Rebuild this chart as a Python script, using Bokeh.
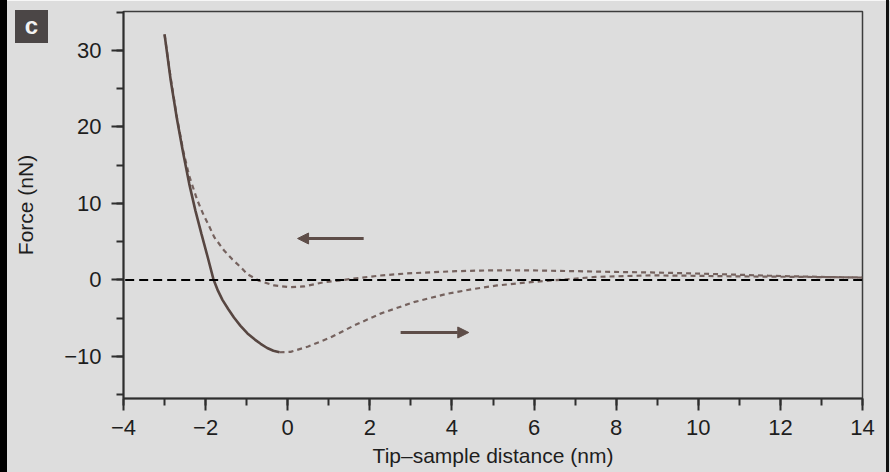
from bokeh.plotting import figure
from bokeh.models import (Arrow, NormalHead, Range1d, SingleIntervalTicker, Div, GridBox)
from bokeh.embed import file_html
from bokeh.resources import INLINE

# ---- data ----
approach_x = [-3.0, -2.85, -2.7, -2.55, -2.4, -2.25, -2.1, -1.95, -1.81, -1.7, -1.59,
              -1.45, -1.31, -1.15, -0.98, -0.8, -0.66, -0.5, -0.35, -0.2]
approach_y = [32.1, 26.1, 21.1, 16.7, 12.6, 9.1, 6.0, 3.0, 0.1, -1.4, -2.6,
              -3.8, -4.9, -6.0, -7.0, -7.8, -8.35, -8.9, -9.25, -9.45]

lower_x = [-0.2, 0.07, 0.5, 1.05, 1.6, 2.26, 3.07, 3.89, 4.5, 5.1, 5.92, 6.73,
           7.5, 8.84, 9.8, 10.86, 12.5, 14.0]
lower_y = [-9.45, -9.4, -8.7, -7.5, -6.0, -4.4, -2.9, -1.8, -1.2, -0.72, -0.28, 0.05,
           0.4, 0.6, 0.55, 0.47, 0.4, 0.33]

upper_x = [-3.0, -2.85, -2.7, -2.55, -2.4, -2.2, -2.05, -1.92, -1.79, -1.55, -1.35,
           -1.15, -0.98, -0.7, -0.33, 0.07, 0.4, 0.88, 1.29, 1.8, 2.26, 2.9, 3.48,
           4.1, 4.7, 5.3, 5.92, 7.0, 7.94, 8.84, 9.9, 10.86, 11.7, 12.5, 13.3, 14.0]
upper_y = [32.1, 26.4, 21.3, 17.0, 13.6, 10.4, 8.5, 7.1, 5.6, 3.85, 2.7,
           1.7, 0.75, -0.1, -0.72, -0.95, -0.85, -0.3, -0.05, 0.3, 0.58, 0.85, 1.0,
           1.15, 1.23, 1.27, 1.25, 1.15, 1.05, 0.98, 0.85, 0.7, 0.56, 0.45, 0.37, 0.31]

x_ticks = [-4, -2, 0, 2, 4, 6, 8, 10, 12, 14]
y_ticks = [-10, 0, 10, 20, 30]
x_title = "Tip\u2013sample distance (nm)"
y_title = "Force (nN)"
panel_letter = "c"

FONT = "Liberation Sans"
TXT = "#1e1e1e"
BG = "#dddddd"

p = figure(width=890, height=472, x_range=Range1d(-4, 14), y_range=Range1d(-15.5, 35.1),
           output_backend="svg", toolbar_location=None,
           min_border_left=123, min_border_right=28, min_border_top=11, min_border_bottom=74,
           background_fill_color=BG, border_fill_color=BG)
p.grid.visible = False
p.outline_line_color = "#3c3c3c"
p.outline_line_width = 1.5

p.xaxis.ticker = SingleIntervalTicker(interval=2, num_minor_ticks=2)
p.yaxis.ticker = SingleIntervalTicker(interval=10, num_minor_ticks=2)
p.xaxis.major_label_overrides = {t: (str(t).replace("-", "\u2212")) for t in x_ticks}
p.yaxis.major_label_overrides = {t: (str(t).replace("-", "\u2212")) for t in y_ticks}
for ax in (p.xaxis[0], p.yaxis[0]):
    ax.axis_line_color = "#2e2e2e"
    ax.axis_line_width = 2
    ax.major_tick_line_color = "#2e2e2e"
    ax.minor_tick_line_color = "#2e2e2e"
    ax.major_tick_line_width = 2
    ax.minor_tick_line_width = 2
    ax.major_tick_in = 0
    ax.minor_tick_in = 0
    ax.major_tick_out = 12
    ax.minor_tick_out = 7
    ax.major_label_text_font = FONT
    ax.major_label_text_font_size = "22px"
    ax.major_label_text_color = TXT
    ax.axis_label_text_font = FONT
    ax.axis_label_text_font_size = "21px"
    ax.axis_label_text_font_style = "normal"
    ax.axis_label_text_color = TXT
p.xaxis.major_label_standoff = 9
p.yaxis.major_label_standoff = 10
p.xaxis.axis_label = x_title
p.yaxis.axis_label = y_title
p.xaxis.axis_label_standoff = 6
p.yaxis.axis_label_standoff = 24

# zero reference line
p.add_layout(Arrow(start=None, end=None, x_start=-4.3, y_start=0, x_end=14.3, y_end=0,
                   line_color="black", line_width=2, line_dash="9 5"))

p.line(upper_x, upper_y, line_color="#75625e", line_width=2.2, line_dash="5 4")
p.line(lower_x, lower_y, line_color="#75625e", line_width=2.2, line_dash="5 4")
p.line(approach_x, approach_y, line_color="#574641", line_width=2.6)

# direction arrows
p.add_layout(Arrow(x_start=1.85, y_start=5.42, x_end=0.24, y_end=5.42,
                   line_color="#5e4d48", line_width=3,
                   end=NormalHead(size=11, fill_color="#5e4d48", line_color="#5e4d48")))
p.add_layout(Arrow(x_start=2.75, y_start=-6.87, x_end=4.41, y_end=-6.87,
                   line_color="#5e4d48", line_width=3,
                   end=NormalHead(size=11, fill_color="#5e4d48", line_color="#5e4d48")))

# panel letter and page edges, overlaid on the same grid cell
letter = Div(text=panel_letter, width=33, height=33, margin=(10, 0, 0, 15), align="start",
             styles={"background-color": "#4b4646", "color": "#f2f2f2",
                     "font-family": FONT, "font-weight": "bold", "font-size": "24px",
                     "text-align": "center", "line-height": "31px", "z-index": "5",
                     "box-sizing": "border-box"})
left_edge = Div(text="", width=7, height=472, margin=(0, 0, 0, 0), align="start",
                styles={"background-color": "black", "z-index": "5"})
right_edge = Div(text="", width=3, height=472, margin=(0, 0, 0, 886), align="start",
                 styles={"background-color": "#111111", "z-index": "5"})

grid = GridBox(children=[(p, 0, 0), (letter, 0, 0), (left_edge, 0, 0), (right_edge, 0, 0)])

open("out.html", "w").write(file_html(grid, INLINE))
